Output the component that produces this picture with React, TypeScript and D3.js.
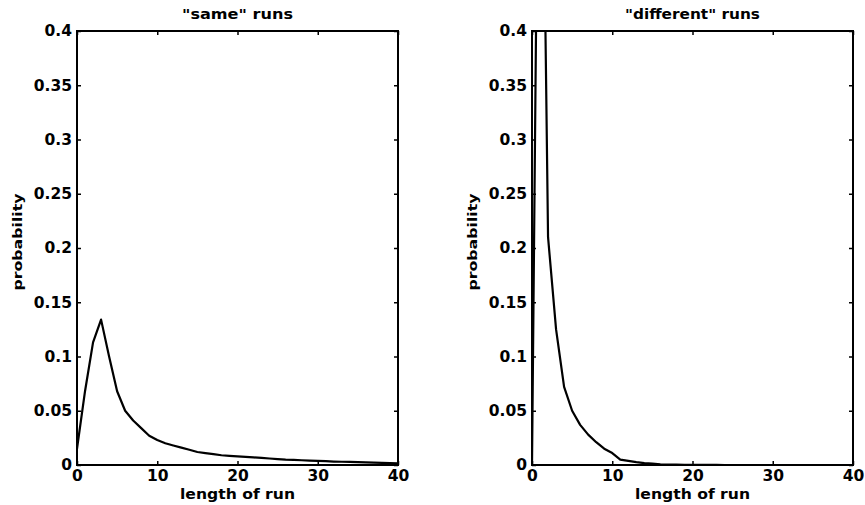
import * as d3 from "d3";
import { useRef, useEffect } from "react";

// run length 0..40
const runLength = d3.range(0, 41);

// "same" runs, probability per length
const sameProb = [
  0.015, 0.068, 0.113, 0.134, 0.1, 0.068, 0.05, 0.041, 0.034, 0.027,
  0.023, 0.02, 0.018, 0.016, 0.014, 0.012, 0.011, 0.01, 0.009, 0.0085,
  0.008, 0.0075, 0.007, 0.0065, 0.006, 0.0055, 0.005, 0.0047, 0.0044, 0.0041,
  0.0038, 0.0035, 0.0032, 0.003, 0.0028, 0.0026, 0.0024, 0.0022, 0.002, 0.0018,
  0.0016,
];

// "different" runs, peak at 1 goes off the top of the axes
const diffProb = [
  0, 0.8, 0.21, 0.125, 0.072, 0.05, 0.037, 0.028, 0.021, 0.015,
  0.011, 0.005, 0.0038, 0.0027, 0.0018, 0.0012, 0.0007, 0.0004, 0.0003, 0.0002,
  0.0001, 0.0001, 0.0001, 0.0001, 0, 0, 0, 0, 0, 0,
  0, 0, 0, 0, 0, 0, 0, 0, 0, 0,
  0,
];

const xTicks = [0, 10, 20, 30, 40];
const yTicks = [0, 0.05, 0.1, 0.15, 0.2, 0.25, 0.3, 0.35, 0.4];

const FONT = "'DejaVu Sans', sans-serif";

function Panel({ id, left, right, top, bottom, title, titleWidth, values }) {
  const gx = useRef();
  const gy = useRef();
  const gxTop = useRef();
  const gyRight = useRef();

  const x = d3.scaleLinear().domain([0, 40]).range([left, right]);
  const y = d3.scaleLinear().domain([0, 0.4]).range([bottom, top]);
  const line = d3.line().x((d, i) => x(runLength[i])).y((d) => y(d));

  useEffect(() => {
    const fmt = (d) => String(d);
    d3.select(gx.current)
      .call(d3.axisBottom(x).tickValues(xTicks).tickSizeInner(-4).tickSizeOuter(0).tickPadding(5).tickFormat(fmt));
    d3.select(gy.current)
      .call(d3.axisLeft(y).tickValues(yTicks).tickSizeInner(-4).tickSizeOuter(0).tickPadding(5).tickFormat(fmt));
    d3.select(gxTop.current)
      .call(d3.axisTop(x).tickValues(xTicks).tickSizeInner(-4).tickSizeOuter(0).tickFormat(() => ""));
    d3.select(gyRight.current)
      .call(d3.axisRight(y).tickValues(yTicks).tickSizeInner(-4).tickSizeOuter(0).tickFormat(() => ""));
    [gx, gy, gxTop, gyRight].forEach((g) => {
      const s = d3.select(g.current);
      s.select(".domain").remove();
      s.selectAll(".tick line").attr("stroke", "#000").attr("stroke-width", 1.5);
      s.selectAll(".tick text")
        .attr("fill", "#000")
        .style("font-family", FONT)
        .style("font-weight", "bold")
        .style("font-size", "15.5px");
    });
  }, [x, y]);

  const cx = (left + right) / 2;
  const cy = (top + bottom) / 2;

  return (
    <g>
      <defs>
        <clipPath id={id}>
          <rect x={left} y={top} width={right - left} height={bottom - top} />
        </clipPath>
      </defs>
      <g ref={gx} transform={`translate(0,${bottom})`} />
      <g ref={gy} transform={`translate(${left},0)`} />
      <g ref={gxTop} transform={`translate(0,${top})`} />
      <g ref={gyRight} transform={`translate(${right},0)`} />
      <path
        d={line(values)}
        fill="none"
        stroke="#000"
        strokeWidth={2.2}
        strokeLinejoin="round"
        clipPath={`url(#${id})`}
      />
      <rect x={left} y={top} width={right - left} height={bottom - top} fill="none" stroke="#000" strokeWidth={2} />
      <text
        x={cx}
        y={19}
        textAnchor="middle"
        fontFamily={FONT}
        fontWeight="bold"
        fontSize={14.5}
        textLength={titleWidth}
        lengthAdjust="spacingAndGlyphs"
      >
        {title}
      </text>
      <text
        x={cx}
        y={499}
        textAnchor="middle"
        fontFamily={FONT}
        fontWeight="bold"
        fontSize={14}
        textLength={115}
        lengthAdjust="spacingAndGlyphs"
      >
        length of run
      </text>
      <text
        transform={`translate(${left - 55},${cy - 6}) rotate(-90)`}
        textAnchor="middle"
        fontFamily={FONT}
        fontWeight="bold"
        fontSize={13}
        textLength={97}
        lengthAdjust="spacingAndGlyphs"
      >
        probability
      </text>
    </g>
  );
}

export default function App() {
  return (
    <div style={{ position: "absolute", left: 0, top: 0, background: "#fff" }}>
      <svg width={865} height={505} style={{ display: "block" }}>
        <rect width={865} height={505} fill="#fff" />
        <Panel id="clipSame" left={77} right={398} top={31} bottom={465} title={'"same" runs'} titleWidth={111} values={sameProb} />
        <Panel id="clipDiff" left={532} right={853} top={31} bottom={465} title={'"different" runs'} titleWidth={135} values={diffProb} />
      </svg>
    </div>
  );
}
